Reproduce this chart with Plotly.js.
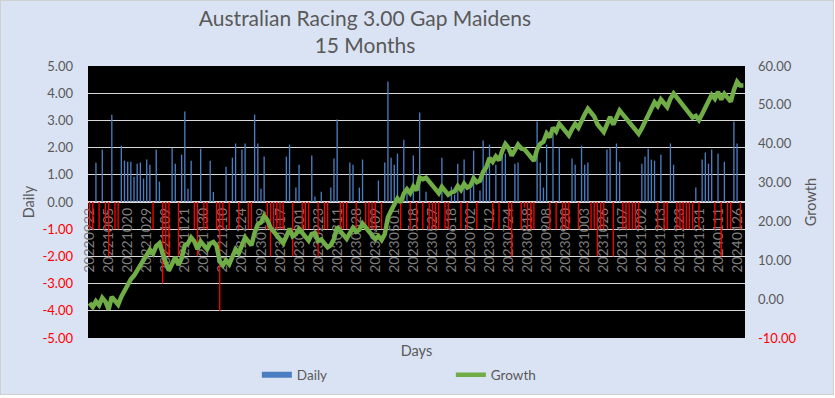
<!DOCTYPE html>
<html>
<head>
<meta charset="utf-8">
<script src="https://cdn.plot.ly/plotly-3.0.1.min.js"></script>
<style>
html,body{margin:0;padding:0;background:#ffffff;}
#chart{position:absolute;left:0;top:0;width:834px;height:395px;border:1px solid #d0d0d0;box-sizing:border-box;}
</style>
</head>
<body>
<div id="chart"></div>
<script>
// Daily result per racing day
const dailyValues = [
-1,-1,1.44,-1,1.93,-1,-2,3.21,-1,-1,
2.07,1.52,1.48,1.48,0.93,1.41,1.45,0.86,1.56,1.37,
-1,1.93,0.75,-3,-2,-2,1.99,1.41,-2,1.74,
3.33,0.49,1.52,-1,-2,1.96,-1,-1,1.52,0.37,
-1,-4,-1,1.30,-1,1.63,2.15,-1,1.93,2.15,
-1,-1,3.21,2.15,0.49,1.67,-1,-2,-1,-1,
-1,-1,1.67,2.11,-2,0.53,1.37,-1,-1,-1,
1.71,0.20,-2,0.38,-1,-1,0.53,1.60,3.03,-1,
-1,-1,1.45,1.37,-1,0.53,1.56,-1,-1,-1,
-1,0.79,-1,1.45,4.43,1.63,1.37,1.78,-1,2.29,
0.5,-1,1.71,-1,3.29,-1,0.38,-1,-1,-1,
-1,1.63,-1,-1,0.56,0.27,1.41,-1,1.56,-1,
0.5,1.89,-1,0.42,2.26,1.19,2.11,-1,1.37,-1,
2.0,1.78,-1,-2,1.41,1.45,-1,-0.2,-1,-1,
-1,2.96,1.45,0.53,2.11,-1,2.52,-1,2.0,-1,
-1,-1,1.6,1.37,-1,2.07,1.37,1.45,-1,-1,
-2,-1,-1,1.93,2.0,-2,2.15,1.48,-1,-1,
-1,-1,-1,-1,1.41,1.67,1.96,1.56,1.52,-1,
1.74,-1,-1,2.15,1.37,-1,-1,-1,-1,-1,
-1,0.53,-1,1.56,1.82,1.41,1.93,-1,1.78,-2,
1.48,-1,-1,2.96,2.15,-1,0
];

// Running growth
const growthValues = [
-1.00,-2.00,-0.56,-1.56,0.37,-0.63,-2.63,0.58,-0.42,-1.42,
0.65,2.17,3.65,5.13,6.06,7.47,8.92,9.78,11.34,12.71,
11.71,13.64,14.39,11.39,9.39,7.39,9.38,10.79,8.79,10.53,
13.86,14.35,15.87,14.87,12.87,14.83,13.83,12.83,14.35,14.72,
13.72,9.72,8.72,10.02,9.02,10.65,12.80,11.80,13.73,15.88,
14.88,13.88,17.09,19.24,19.73,21.40,20.40,18.40,17.40,16.40,
15.40,14.40,16.07,18.18,16.18,16.71,18.08,17.08,16.08,15.08,
16.79,16.99,14.99,15.37,14.37,13.37,13.90,15.50,18.53,17.53,
16.53,15.53,16.98,18.35,17.35,17.88,19.44,18.44,17.44,16.44,
15.44,16.23,15.23,16.68,21.11,22.74,24.11,25.89,24.89,27.18,
28.28,27.28,28.99,27.99,31.28,30.88,31.26,30.26,29.26,28.26,
27.26,28.89,27.89,26.89,27.45,27.72,29.13,28.13,29.69,28.69,
29.19,31.08,30.08,30.50,32.76,33.95,36.36,35.36,36.73,35.73,
38.13,39.91,38.91,36.91,38.32,39.77,38.77,38.57,37.57,36.57,
35.57,38.53,39.98,40.51,42.62,41.62,44.14,43.14,45.14,44.14,
43.14,42.14,43.74,45.11,44.11,46.18,47.55,49.00,48.00,47.00,
45.00,44.00,43.00,44.93,46.93,44.93,47.08,48.56,47.56,46.56,
45.56,44.56,43.56,42.56,43.97,45.64,47.60,49.16,50.68,49.68,
51.42,50.42,49.42,51.57,52.94,51.94,50.94,49.94,48.94,47.94,
46.74,47.17,46.07,47.63,49.35,50.76,52.59,51.59,53.37,51.37,
52.85,51.85,50.85,53.81,55.96,54.96,54.96
];

// Date labels shown on the category axis (every 6th day)
const dateLabels = [
"20220922","20221005","20221020","20221029","20221109","20221121","20221130",
"20221210","20221224","20230109","20230117","20230201","20230223","20230311",
"20230328","20230409","20230501","20230518","20230527","20230618","20230702",
"20230712","20230724","20230818","20230908","20230920","20231003","20231026",
"20231107","20231202","20231213","20231223","20231231","20240111","20240126"
];
const labelStep = 6;

const dailyTickValues = [-5,-4,-3,-2,-1,0,1,2,3,4,5];
const dailyTickLabels = ["-5.00","-4.00","-3.00","-2.00","-1.00","0.00","1.00","2.00","3.00","4.00","5.00"];
const growthTickValues = [-10,0,10,20,30,40,50,60];
const growthTickLabels = ["-10.00","0.00","10.00","20.00","30.00","40.00","50.00","60.00"];

const BLUE = '#4A7EC1', RED = '#FF0000', GREEN = '#70AD47', TXT = '#595959';

const dayIndex = dailyValues.map((_, i) => i);
const labelIndex = dateLabels.map((_, k) => k * labelStep);
const redIfNeg = (v, s) => v < 0 ? '<span style="color:' + RED + '">' + s + '</span>' : s;

const traces = [
  {
    type: 'bar', x: dayIndex, y: dailyValues, name: 'Daily', showlegend: false,
    marker: {color: dailyValues.map(v => v < 0 ? RED : BLUE), line: {width: 0}},
    width: 0.42, hoverinfo: 'skip'
  },
  {
    type: 'scatter', mode: 'lines', x: [null], y: [null], name: 'Daily',
    line: {color: BLUE, width: 6}, hoverinfo: 'skip'
  },
  {
    type: 'scatter', mode: 'lines', x: dayIndex, y: growthValues, name: 'Growth', yaxis: 'y2',
    line: {color: GREEN, width: 4.5}, hoverinfo: 'skip'
  }
];

const layout = {
  width: 832, height: 393,
  margin: {l: 87, r: 88, t: 65, b: 56, pad: 0, autoexpand: false},
  paper_bgcolor: '#DAE3F3', plot_bgcolor: '#000000',
  font: {family: 'Lato, "Open Sans", sans-serif', color: TXT, size: 13},
  title: {
    text: 'Australian Racing 3.00 Gap Maidens<br>15 Months',
    font: {size: 21, color: TXT},
    x: (365 - 1 - 87) / 657, xref: 'paper', xanchor: 'center',
    y: 1 - 25 / 393, yref: 'container', yanchor: 'top'
  },
  showlegend: true,
  legend: {
    orientation: 'h', x: 0.257, xanchor: 'left',
    y: (393 - 374) / 393, yref: 'container', yanchor: 'middle',
    entrywidth: 149, entrywidthmode: 'pixels', traceorder: 'normal',
    font: {size: 13.5, color: TXT}, bgcolor: 'rgba(0,0,0,0)'
  },
  xaxis: {
    range: [-0.5, dailyValues.length - 0.5],
    anchor: 'free', position: 0.5,
    tickmode: 'array', tickvals: labelIndex, ticktext: dateLabels,
    tickangle: -90, tickfont: {size: 14, color: '#7F7F7F'},
    ticks: '', ticklabelstandoff: 2,
    showgrid: false, zeroline: false, showline: false,
    layer: 'below traces', automargin: false, fixedrange: true,
    title: {text: 'Days', font: {size: 14.5, color: TXT}, standoff: 81}
  },
  yaxis: {
    range: [-5, 5], tickmode: 'array', tickvals: dailyTickValues,
    ticktext: dailyTickValues.map((v, i) => redIfNeg(v, dailyTickLabels[i])),
    tickfont: {size: 13, color: TXT},
    showgrid: true, gridcolor: '#D9D9D9', gridwidth: 1.3,
    zeroline: true, zerolinecolor: '#D9D9D9', zerolinewidth: 1.3,
    ticks: '', ticklabelstandoff: 14, showline: false, automargin: false, fixedrange: true,
    title: {text: 'Daily', font: {size: 14.5, color: TXT}, standoff: 4}
  },
  yaxis2: {
    range: [-10, 60], overlaying: 'y', side: 'right', anchor: 'x',
    tickmode: 'array', tickvals: growthTickValues,
    ticktext: growthTickValues.map((v, i) => redIfNeg(v, growthTickLabels[i])),
    tickfont: {size: 13, color: TXT},
    showgrid: false, zeroline: false, ticks: '', ticklabelstandoff: 12,
    showline: false, automargin: false, fixedrange: true,
    title: {text: 'Growth', font: {size: 14.5, color: TXT}, standoff: 10}
  }
};

Plotly.newPlot('chart', traces, layout, {staticPlot: true, displayModeBar: false});
</script>
</body>
</html>
